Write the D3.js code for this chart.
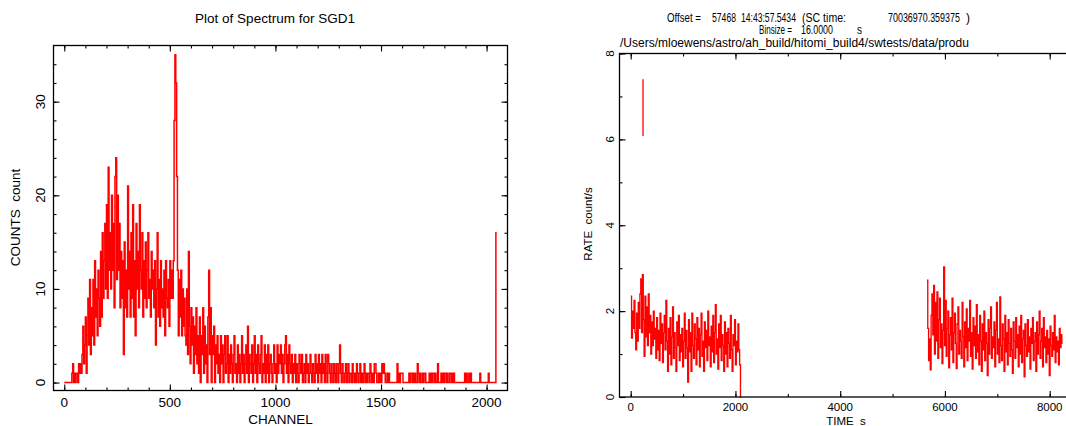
<!DOCTYPE html>
<html><head><meta charset="utf-8">
<script src="https://cdn.jsdelivr.net/npm/d3@7"></script>
<style>
body{margin:0;background:#fff}
svg{display:block}
text{font-family:"Liberation Sans",Arial,sans-serif;fill:#000}
</style>
</head><body>
<svg id="c" width="1066" height="426"></svg>
<script>
// ---------------- data: spectrum (counts per 4-channel group) ----------------
const specBinWidth = 4;
const specCounts = [
 0,0,0,0,0,0,0,0,0,1,2,0,1,0,1,1,
 0,2,1,2,1,3,6,2,4,7,1,5,9,4,11,3,
 8,5,11,4,13,7,10,5,12,9,6,14,7,16,9,13,
 17,10,19,9,23,12,16,10,20,12,17,8,22,24,11,20,
 12,17,8,14,9,13,3,15,8,12,7,21,10,14,7,16,
 9,19,7,13,5,17,10,14,8,19,12,10,16,7,13,9,
 15,8,12,16,9,11,7,14,10,12,8,13,4,10,16,7,
 11,6,13,8,10,7,12,5,13,9,8,11,6,13,9,12,
 9,13,28,35,32,22,12,5,11,7,12,5,10,6,9,5,
 4,10,3,14,6,2,8,4,7,1,6,3,8,2,5,1,
 7,0,5,3,8,1,6,2,4,0,7,12,3,8,0,5,
 3,6,0,4,2,5,1,3,0,5,2,4,0,3,5,1,
 2,5,0,3,1,4,2,0,3,5,1,2,0,4,1,3,
 0,2,5,1,3,0,2,4,1,6,0,3,2,1,4,0,
 2,5,1,3,0,4,2,1,3,5,0,2,1,4,0,3,
 1,4,0,2,3,1,0,2,4,1,2,0,4,1,3,2,
 4,1,3,0,2,4,5,1,3,0,4,2,1,3,0,2,
 1,3,0,2,1,0,3,2,1,3,0,1,2,0,3,1,
 2,0,1,3,1,0,2,1,0,3,1,2,0,3,1,2,
 0,3,1,2,0,3,1,0,3,2,1,0,2,1,0,2,
 1,0,2,1,0,2,4,1,0,2,1,0,1,2,0,1,
 2,0,1,1,0,2,1,0,1,0,2,1,0,1,2,0,
 1,0,1,2,0,1,0,1,1,0,2,1,0,1,0,2,
 2,1,0,0,1,0,1,0,2,1,2,1,0,0,1,0,
 1,0,0,0,0,0,0,0,0,0,2,0,1,0,1,1,
 1,0,0,0,0,0,0,0,1,0,1,1,0,1,0,1,
 0,0,2,1,0,1,0,0,1,0,1,1,0,0,0,0,
 1,0,1,0,1,1,0,1,0,0,2,0,0,0,1,0,
 1,0,1,1,0,1,0,0,1,1,0,1,0,1,0,0,
 0,0,0,0,0,0,0,0,0,0,1,0,1,0,0,1,
 0,1,0,0,0,0,0,0,0,0,0,0,1,0,0,0,
 0,0,0,0,0,0,1,0,0,0,0,0,0,0,0,16
];
const specXTicks = [0,500,1000,1500,2000];
const specYTicks = [0,10,20,30];
const specTitle = "Plot of Spectrum for SGD1";
const specXLabel = "CHANNEL";
const specYLabel = "COUNTS  count";

// ---------------- data: light curve (16 s bins) ----------------
const lcBinSize = 16;
const lcStart1 = 0;
const lcRate1 = [
 2.35,1.37,2.0,1.6,2.25,1.5,
 1.1,1.95,1.3,2.2,
 1.6,2.4,
 2.75,1.5,2.85,
 1.8,0.95,2.35,1.4,2.1,1.2,2.4,
 1.5,1.9,1.0,1.75,1.2,2.0,1.35,1.6,0.9,1.85,1.1,1.55,0.85,1.95,1.25,1.7,
 0.8,1.5,1.9,1.1,2.25,1.3,0.6,1.6,1.0,1.85,0.75,1.4,2.1,0.9,1.5,1.15,0.6,1.75,1.2,1.9,0.85,1.45,1.05,1.6,0.7,
 1.3,1.95,0.9,1.55,1.15,0.35,1.8,1.05,
 1.5,0.6,1.95,1.2,0.9,1.7,1.35,0.75,1.85,1.1,1.6,0.7,1.45,1.95,0.95,1.3,0.6,1.75,1.15,1.55,0.85,2.0,1.2,1.4,0.7,1.65,1.05,1.9,0.8,1.5,2.15,1.0,
 1.35,0.65,1.7,1.15,1.9,0.85,1.45,1.2,0.6,1.75,1.0,1.5,0.7,1.6,1.25,0.9,1.9,1.1,0.6,1.45,1.2,1.8,0.75,1.3,1.05,1.7,1.1,0.75,0
];
const lcStart2 = 5656;
const lcRate2 = [
 2.72,1.6,0.85,1.35,0.63,1.9,2.4,1.45,2.6,1.0,2.2,1.3,2.45,0.9,1.8,2.3,1.15,1.7,0.78,1.55,
 3.03,
 1.2,2.25,0.95,1.6,2.0,0.68,1.45,1.85,1.1,2.3,0.8,1.5,1.95,1.25,0.66,1.7,2.1,1.0,1.55,1.3,
 0.9,2.2,1.4,0.7,1.75,1.15,2.05,0.85,1.6,1.3,2.25,0.95,1.5,0.65,1.85,1.2,1.65,0.9,2.15,1.05,1.45,0.75,1.9,1.3,0.6,1.7,1.1,2.0,0.85,1.5,1.25,0.5,1.8,1.0,1.6,2.1,0.9,1.4,1.15,1.75,0.7,1.55,2.2,1.0,1.35,0.8,2.33,
 1.2,0.85,1.7,1.35,0.6,1.9,1.05,1.5,0.75,1.8,1.25,0.95,1.6,1.1,0.55,1.75,1.3,0.9,1.85,1.15,
 1.45,0.7,1.65,1.0,1.9,0.8,1.35,1.55,0.47,1.7,1.2,0.95,1.8,1.05,1.4,0.65,1.6,1.25,1.85,0.85,
 1.3,1.5,0.6,1.75,1.0,1.45,2.0,0.9,1.3,1.6,0.7,1.85,1.15,1.4,0.8,1.55,1.0,1.35,0.5,1.65,
 1.2,0.95,1.5,1.1,1.9,0.8,1.4,1.05,1.3,0.75,1.6,1.15,1.45,1.25
];
const flareTime = [235];
const flareRate = [6.74];
const flareErr = [0.66];
const lcXTicks = [0,2000,4000,6000,8000];
const lcYTicks = [0,2,4,6,8];
const lcXLabel = "TIME  s";
const lcYLabel = "RATE  count/s";
// header pieces: [text, start x, baseline y, target width]
const lcHeader = [
 ["Offset =",667,22,34],["57468",712,22,24],["14:43:57.5434",741,22,55],["(SC time:",802,22,44],
 ["70036970.359375",888,22,72],[")",966,22,4],
 ["Binsize =",759,33.5,33],["16.0000",801,33.5,32],["s",857,33.5,5],
 ["/Users/mloewens/astro/ah_build/hitomi_build4/swtests/data/produ",620,46.5,359]
];

// ---------------- drawing ----------------
const svg = d3.select("#c");
svg.append("rect").attr("width",1066).attr("height",426).attr("fill","#fff");
const RED = "#ff0000";

function frame(g, x, y, xMaj, xMin, yMaj, yMin) {
  const [x0,x1] = x.range(), [y0,y1] = y.range(); // y0 bottom
  const L = 6, S = 3;
  const add = (axis, tx, ty) => {
    const a = g.append("g").attr("transform",`translate(${tx},${ty})`).call(axis);
    a.select(".domain").remove();
    a.selectAll("line").attr("stroke","#000").attr("stroke-width",1.1);
  };
  add(d3.axisBottom(x).tickValues(xMaj).tickSize(-L).tickFormat(""),0,y0);
  add(d3.axisBottom(x).tickValues(xMin).tickSize(-S).tickFormat(""),0,y0);
  add(d3.axisTop(x).tickValues(xMaj).tickSize(-L).tickFormat(""),0,y1);
  add(d3.axisTop(x).tickValues(xMin).tickSize(-S).tickFormat(""),0,y1);
  add(d3.axisLeft(y).tickValues(yMaj).tickSize(-L).tickFormat(""),x0,0);
  add(d3.axisLeft(y).tickValues(yMin).tickSize(-S).tickFormat(""),x0,0);
  add(d3.axisRight(y).tickValues(yMaj).tickSize(-L).tickFormat(""),x1,0);
  add(d3.axisRight(y).tickValues(yMin).tickSize(-S).tickFormat(""),x1,0);
  g.append("rect").attr("x",x0).attr("y",y1).attr("width",x1-x0).attr("height",y0-y1)
   .attr("fill","none").attr("stroke","#000").attr("stroke-width",1.3);
}

// ---- left: spectrum ----
{
  const x = d3.scaleLinear().domain([-51, 2099]).range([53.5, 507.5]);
  const y = d3.scaleLinear().domain([-0.85, 36.0]).range([390.5, 45.5]);
  const g = svg.append("g");
  const pts = specCounts.map((c,i)=>[i*specBinWidth, c]);
  pts.push([specCounts.length*specBinWidth, specCounts[specCounts.length-1]]);
  g.append("path").datum(pts)
   .attr("d", d3.line().x(d=>x(d[0])).y(d=>y(d[1])).curve(d3.curveStepAfter))
   .attr("fill","none").attr("stroke",RED).attr("stroke-width",1.5);
  frame(g, x, y, specXTicks, d3.range(0,2001,100), specYTicks, d3.range(0,36,2));
  const fs = 13.5;
  g.selectAll(".xl").data(specXTicks).join("text")
   .attr("x",d=>x(d)).attr("y",406.5).attr("text-anchor","middle").attr("font-size",fs).text(d=>d);
  g.selectAll(".yl").data(specYTicks).join("text")
   .attr("transform",d=>`translate(40,${y(d)}) rotate(-90)`).attr("dy","0.36em")
   .attr("text-anchor","middle").attr("font-size",fs).text(d=>d);
  g.append("text").attr("x",280.5).attr("y",423.5).attr("text-anchor","middle").attr("font-size",fs).text(specXLabel);
  g.append("text").attr("transform","translate(15,217.5) rotate(-90)").attr("dy","0.36em")
   .attr("text-anchor","middle").attr("font-size",fs).style("white-space","pre").text(specYLabel);
  g.append("text").attr("x",275).attr("y",22.5).attr("text-anchor","middle").attr("font-size",fs).text(specTitle);
}

// ---- right: light curve ----
{
  const x = d3.scaleLinear().domain([-214, 8426]).range([619.5, 1072]);
  const y = d3.scaleLinear().domain([0, 8]).range([397, 53.5]);
  const g = svg.append("g");
  const line = d3.line().x(d=>x(d[0])).y(d=>y(d[1])).curve(d3.curveStepAfter);
  [[lcStart1, lcRate1],[lcStart2, lcRate2]].forEach(([t0, rates])=>{
    const pts = rates.map((r,i)=>[t0+i*lcBinSize, r]);
    pts.push([t0+rates.length*lcBinSize, rates[rates.length-1]]);
    g.append("path").datum(pts).attr("d", line)
     .attr("fill","none").attr("stroke",RED).attr("stroke-width",1.35);
  });
  g.selectAll(".fl").data(flareTime).join("line")
   .attr("x1",d=>x(d)).attr("x2",d=>x(d))
   .attr("y1",(d,i)=>y(flareRate[i]-flareErr[i])).attr("y2",(d,i)=>y(flareRate[i]+flareErr[i]))
   .attr("stroke",RED).attr("stroke-width",1.3);
  frame(g, x, y, lcXTicks, d3.range(0,8001,1000), lcYTicks, d3.range(0,8.01,1));
  const fs = 11.5;
  g.selectAll(".xl").data(lcXTicks).join("text")
   .attr("x",d=>x(d)).attr("y",411).attr("text-anchor","middle").attr("font-size",fs).text(d=>d);
  g.selectAll(".yl").data(lcYTicks).join("text")
   .attr("transform",d=>`translate(610,${y(d)}) rotate(-90)`).attr("dy","0.36em")
   .attr("text-anchor","middle").attr("font-size",fs).text(d=>d);
  g.append("text").attr("x",846).attr("y",424.5).attr("text-anchor","middle").attr("font-size",fs)
   .style("white-space","pre").text(lcXLabel);
  g.append("text").attr("transform","translate(588,224) rotate(-90)").attr("dy","0.36em")
   .attr("text-anchor","middle").attr("font-size",fs).style("white-space","pre").text(lcYLabel);
  lcHeader.forEach(([s, hx, hy, w])=>{
    const t = g.append("text").attr("font-size",12).text(s);
    const nat = t.node().getComputedTextLength();
    const sx = Math.min(1, w / nat);
    t.attr("transform",`translate(${hx},${hy}) scale(${sx},1)`);
  });
}
</script>
</body></html>
